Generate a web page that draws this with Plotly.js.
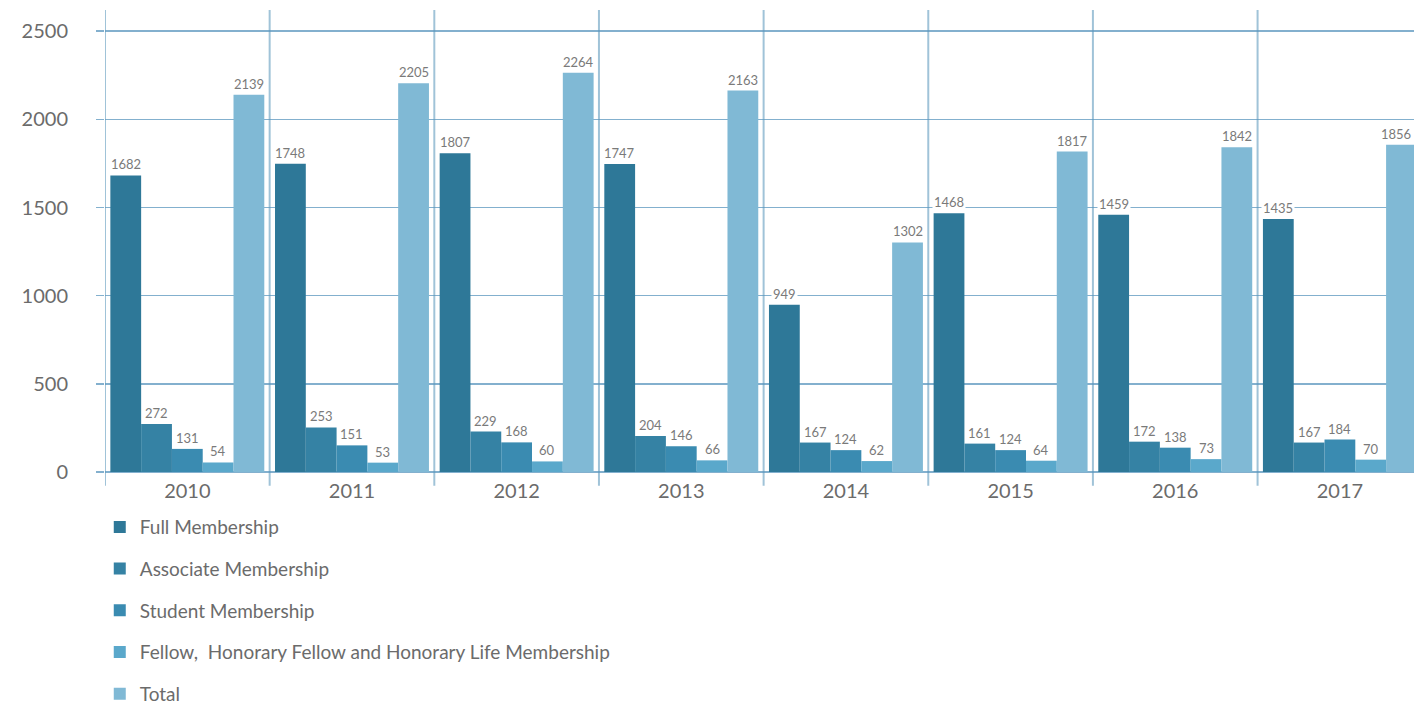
<!DOCTYPE html>
<html>
<head>
<meta charset="utf-8">
<script src="https://cdn.plot.ly/plotly-3.0.1.min.js"></script>
<style>html,body{margin:0;padding:0;background:#fff;}#chart{width:1414px;height:712px;}</style>
</head>
<body>
<div id="chart"></div>
<script>
const years = ['2010','2011','2012','2013','2014','2015','2016','2017'];
const seriesNames = ['Full Membership','Associate Membership','Student Membership','Fellow,  Honorary Fellow and Honorary Life Membership','Total'];
const fullMembership = [1682,1748,1807,1747,949,1468,1459,1435];
const associateMembership = [272,253,229,204,167,161,172,167];
const studentMembership = [131,151,168,146,124,124,138,184];
const fellowMembership = [54,53,60,66,62,64,73,70];
const totalMembership = [2139,2205,2264,2163,1302,1817,1842,1856];
const yTicks = [0,500,1000,1500,2000,2500];

const seriesValues = [fullMembership, associateMembership, studentMembership, fellowMembership, totalMembership];
const colors = ['#2e7898','#3582a4','#3a8bb1','#5aa8cb','#80b9d5'];

const W = 1414, H = 712, ML = 105, MR = 0, MT = 10, MB = 240;
const xRange = [-0.5, 7.45];
const bargap = 0.065;
const pxPerCat = (W - ML - MR) / (xRange[1] - xRange[0]);
const barPx = pxPerCat * (1 - bargap) / seriesValues.length;

const traces = seriesValues.map((vals, j) => ({
  type: 'bar',
  name: seriesNames[j],
  x: years,
  y: vals,
  marker: {color: colors[j]},
  legendgroup: 'g' + j,
  hoverinfo: 'x+y+name'
}));

const annotations = [];
seriesValues.forEach((vals, j) => {
  vals.forEach((v, i) => {
    const shift = (j - (seriesValues.length - 1) / 2) * barPx;
    const centerPx = ML + (i - xRange[0]) * pxPerCat + shift;
    const nearEdge = centerPx + 16 > W;
    annotations.push({
      x: i, y: v, xref: 'x', yref: 'y',
      text: String(v), showarrow: false,
      xanchor: nearEdge ? 'right' : 'center', yanchor: 'bottom',
      xshift: nearEdge ? shift + (W - 1 - centerPx) : shift,
      yshift: 1,
      bgcolor: '#ffffff', borderpad: 1,
      font: {family: 'Lato, "Open Sans", sans-serif', size: 13, color: '#7a7a7a'}
    });
  });
});

const shapes = years.map((y, i) => ({
  type: 'line', xref: 'x', yref: 'paper',
  x0: i - 0.5, x1: i - 0.5, y0: -0.03, y1: 1,
  line: {color: 'rgba(120,170,200,0.7)', width: 2},
  layer: 'below'
}));

const layout = {
  width: W, height: H,
  margin: {l: ML, r: MR, t: MT, b: MB, pad: 0, autoexpand: false},
  paper_bgcolor: '#ffffff', plot_bgcolor: '#ffffff',
  font: {family: 'Lato, "Open Sans", sans-serif', color: '#6b6b6b'},
  barmode: 'group',
  bargap: bargap,
  bargroupgap: 0,
  showlegend: true,
  legend: {
    orientation: 'v', x: -0.004, y: -0.078, xanchor: 'left', yanchor: 'top',
    font: {size: 19, color: '#6b6b6b'},
    tracegroupgap: 14, bgcolor: 'rgba(0,0,0,0)'
  },
  xaxis: {
    type: 'category', range: xRange,
    showgrid: false, zeroline: false, showline: false,
    ticks: '', ticklabelstandoff: 5,
    tickfont: {size: 20, color: '#6b6b6b'},
    fixedrange: true
  },
  yaxis: {
    range: [0, 2620], tickvals: yTicks, ticktext: yTicks.map(String),
    showgrid: true, gridcolor: 'rgba(90,150,190,0.75)', gridwidth: 1.5,
    zeroline: true, zerolinecolor: 'rgba(90,150,190,0.75)', zerolinewidth: 1.5,
    showline: false,
    ticks: 'outside', ticklen: 8, tickcolor: 'rgba(90,150,190,0.75)', tickwidth: 1.5,
    ticklabelstandoff: 24,
    tickfont: {size: 20, color: '#6b6b6b'},
    fixedrange: true
  },
  shapes: shapes,
  annotations: annotations
};

Plotly.newPlot('chart', traces, layout, {displayModeBar: false, staticPlot: true});
</script>
</body>
</html>
